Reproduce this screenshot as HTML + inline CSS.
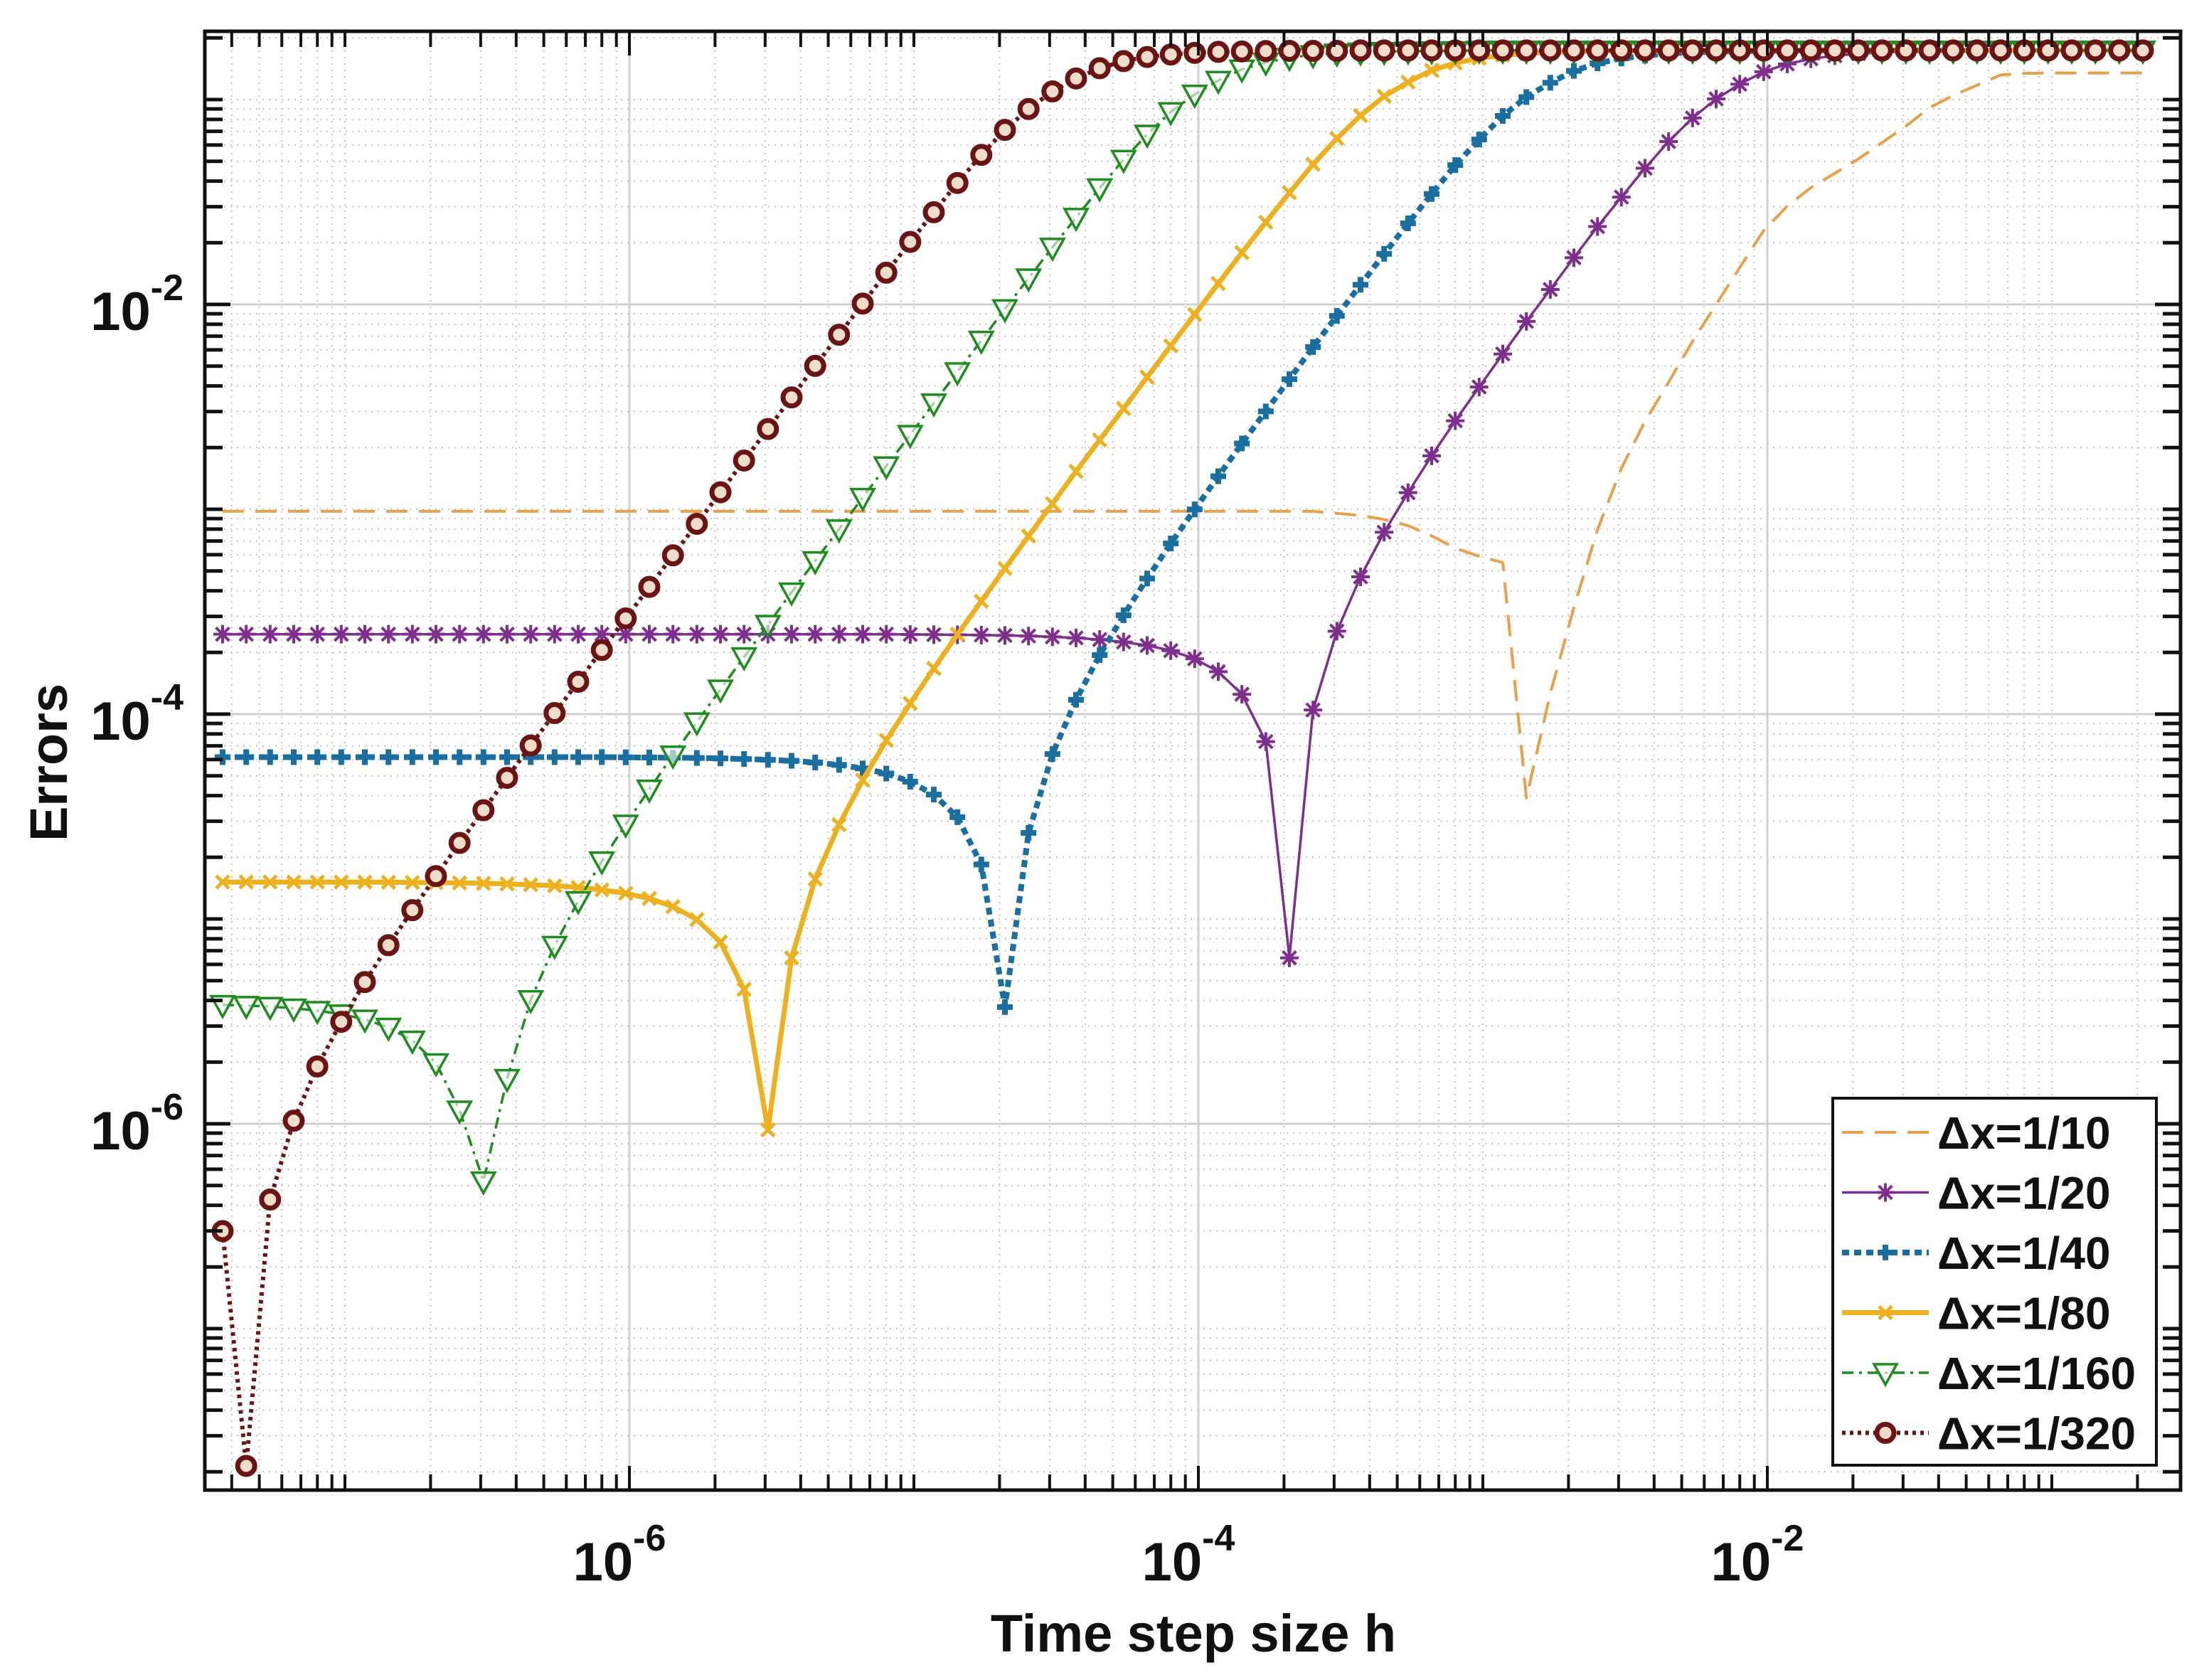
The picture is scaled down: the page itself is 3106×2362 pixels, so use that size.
<!DOCTYPE html>
<html><head><meta charset="utf-8"><style>
html,body{margin:0;padding:0;background:#fff;}
svg{display:block;font-family:"Liberation Sans",Arial,sans-serif;}
</style></head><body>
<svg id="chart" width="3106" height="2362" viewBox="0 0 3106 2362" xmlns="http://www.w3.org/2000/svg">
<defs><clipPath id="plotclip"><rect x="288" y="44" width="2778" height="2051"/></clipPath></defs>
<rect width="3106" height="2362" fill="#fff"/>
<g id="grid"></g>
<g id="series" clip-path="url(#plotclip)"></g>
<g id="axes"></g>
<g id="legend"></g>
<text x="1678" y="2322" font-size="74" font-weight="bold" text-anchor="middle" fill="#111">Time step size h</text>
<text x="0" y="0" transform="translate(94,1072) rotate(-90)" font-size="74" font-weight="bold" text-anchor="middle" fill="#111">Errors</text>
</svg>
<script>
// log10 of time step h (categories)
const hExp=[-7.430,-7.347,-7.263,-7.180,-7.097,-7.013,-6.930,-6.847,-6.763,-6.680,-6.597,-6.513,
-6.430,-6.347,-6.263,-6.180,-6.097,-6.013,-5.930,-5.847,-5.763,-5.680,-5.597,-5.513,
-5.430,-5.347,-5.263,-5.180,-5.097,-5.013,-4.930,-4.847,-4.763,-4.680,-4.597,-4.513,
-4.430,-4.347,-4.263,-4.180,-4.097,-4.013,-3.930,-3.847,-3.763,-3.680,-3.597,-3.513,
-3.430,-3.347,-3.263,-3.180,-3.097,-3.013,-2.930,-2.847,-2.763,-2.680,-2.597,-2.513,
-2.430,-2.347,-2.263,-2.180,-2.097,-2.013,-1.930,-1.847,-1.763,-1.680,-1.597,-1.513,
-1.430,-1.347,-1.263,-1.180,-1.097,-1.013,-0.930,-0.847,-0.763,-0.680];
// log10 of errors per series
const err10=[-3.01,-3.01,-3.01,-3.01,-3.01,-3.01,-3.01,-3.01,-3.01,-3.01,-3.01,-3.01,-3.01,-3.01,-3.01,-3.01,-3.01,-3.01,-3.01,-3.01,-3.01,-3.01,-3.01,-3.01,-3.01,-3.01,-3.01,-3.01,-3.01,-3.01,-3.01,-3.01,-3.01,-3.01,-3.01,-3.01,-3.01,-3.01,-3.01,-3.01,-3.01,-3.01,-3.01,-3.01,-3.01,-3.01,-3.01,
-3.02,-3.03,-3.05,-3.08,-3.13,-3.19,-3.23,-3.26,-4.41,-3.9,-3.48,-3.1,-2.8,-2.57,-2.38,-2.18,-2.0,-1.82,-1.64,-1.52,-1.43,-1.36,-1.29,-1.21,-1.13,-1.04,-0.98,-0.93,-0.88,-0.872,-0.87,-0.87,-0.87,-0.87,-0.87];
const err20=[-3.61,-3.61,-3.61,-3.61,-3.61,-3.61,-3.61,-3.61,-3.61,-3.61,-3.61,-3.61,-3.61,-3.61,-3.61,-3.61,-3.61,-3.61,-3.61,-3.61,-3.61,-3.61,-3.61,-3.61,-3.61,-3.61,-3.61,-3.61,-3.61,
-3.611,-3.612,-3.613,-3.614,-3.616,-3.619,-3.623,-3.628,-3.636,-3.648,-3.665,-3.69,-3.73,-3.793,-3.903,-4.134,-5.19,-3.98,-3.595,-3.33,-3.112,-2.919,-2.739,-2.568,-2.403,-2.242,-2.083,-1.927,-1.772,-1.62,-1.476,-1.335,-1.205,-1.09,-0.997,-0.925,-0.864,-0.826,-0.801,-0.786,-0.776,-0.77,-0.766,-0.764,-0.763,-0.762,-0.76,-0.76,-0.76,-0.76,-0.76,-0.76,-0.76];
const err40=[-4.21,-4.21,-4.21,-4.21,-4.21,-4.21,-4.21,-4.21,-4.21,-4.21,-4.21,-4.21,-4.21,-4.21,-4.21,-4.21,-4.21,
-4.211,-4.212,-4.213,-4.214,-4.216,-4.219,-4.223,-4.228,-4.236,-4.248,-4.265,-4.29,-4.33,-4.393,-4.503,-4.734,-5.43,-4.58,-4.195,-3.93,-3.712,-3.518,-3.338,-3.167,-3.001,-2.839,-2.679,-2.522,-2.365,-2.208,-2.056,-1.904,-1.753,-1.604,-1.461,-1.32,-1.195,-1.08,-0.988,-0.918,-0.86,-0.823,-0.799,-0.785,-0.775,-0.77,-0.766,-0.764,-0.763,-0.762,
-0.76,-0.76,-0.76,-0.76,-0.76,-0.76,-0.76,-0.76,-0.76,-0.76,-0.76,-0.76,-0.76,-0.76,-0.76];
const err80=[-4.82,-4.82,-4.82,-4.82,-4.82,-4.82,-4.82,-4.821,-4.822,-4.823,-4.824,-4.826,-4.829,-4.833,-4.838,-4.846,-4.858,-4.875,-4.90,-4.94,-5.003,-5.113,-5.344,-6.03,-5.19,-4.805,-4.54,-4.322,-4.128,-3.948,-3.777,-3.611,-3.449,-3.289,-3.131,-2.973,-2.815,-2.662,-2.508,-2.355,-2.202,-2.049,-1.898,-1.747,-1.599,-1.455,-1.316,-1.19,-1.078,-0.984,-0.915,-0.857,-0.822,-0.798,-0.784,-0.775,-0.77,-0.766,-0.764,-0.763,-0.762,
-0.76,-0.76,-0.76,-0.76,-0.76,-0.76,-0.76,-0.76,-0.76,-0.76,-0.76,-0.76,-0.76,-0.76,-0.76,-0.76,-0.76,-0.76,-0.76,-0.76,-0.76];
const err160=[-5.419,-5.423,-5.428,-5.436,-5.448,-5.465,-5.49,-5.53,-5.593,-5.703,-5.934,-6.28,-5.78,-5.395,-5.13,-4.912,-4.718,-4.538,-4.367,-4.201,-4.039,-3.879,-3.721,-3.563,-3.405,-3.252,-3.097,-2.943,-2.789,-2.636,-2.482,-2.33,-2.176,-2.022,-1.872,-1.722,-1.576,-1.432,-1.293,-1.17,-1.06,-0.975,-0.907,-0.852,-0.818,-0.795,-0.782,-0.774,-0.769,-0.766,-0.764,-0.763,-0.762,
-0.76,-0.76,-0.76,-0.76,-0.76,-0.76,-0.76,-0.76,-0.76,-0.76,-0.76,-0.76,-0.76,-0.76,-0.76,-0.76,-0.76,-0.76,-0.76,-0.76,-0.76,-0.76,-0.76,-0.76,-0.76,-0.76,-0.76,-0.76,-0.76];
const err320=[-6.524,-7.67,-6.37,-5.985,-5.72,-5.502,-5.308,-5.128,-4.957,-4.791,-4.629,-4.469,-4.311,-4.153,-3.995,-3.842,-3.687,-3.533,-3.379,-3.225,-3.071,-2.917,-2.762,-2.608,-2.454,-2.30,-2.148,-1.996,-1.845,-1.695,-1.55,-1.407,-1.27,-1.148,-1.046,-0.96,-0.897,-0.847,-0.812,-0.792,-0.78,-0.772,-0.767,-0.765,-0.763,-0.762,-0.762,-0.762,
-0.76,-0.76,-0.76,-0.76,-0.76,-0.76,-0.76,-0.76,-0.76,-0.76,-0.76,-0.76,-0.76,-0.76,-0.76,-0.76,-0.76,-0.76,-0.76,-0.76,-0.76,-0.76,-0.76,-0.76,-0.76,-0.76,-0.76,-0.76,-0.76,-0.76,-0.76,-0.76,-0.76,-0.76];
const seriesLabels=["\u0394x=1/10","\u0394x=1/20","\u0394x=1/40","\u0394x=1/80","\u0394x=1/160","\u0394x=1/320"];
const xTickExps=[-6,-4,-2];
const yTickExps=[-2,-4,-6];

const NS="http://www.w3.org/2000/svg";
const L=288,T=44,R=3066,B=2095;
function X(l){return 885+(l+6)*400;}
function Y(l){return 428+(-2-l)*288;}
function mk(tag,attrs,parent){const e=document.createElementNS(NS,tag);for(const k in attrs)e.setAttribute(k,attrs[k]);parent.appendChild(e);return e;}

const grid=document.getElementById('grid');
const axes=document.getElementById('axes');
for(let d=-8;d<=0;d++){for(let k=1;k<=9;k++){
  const lx=d+Math.log10(k);const px=X(lx);
  if(px>L+2&&px<R-2){
    const major=(k===1&&xTickExps.includes(d));
    const g=mk('line',{x1:px,y1:T,x2:px,y2:B,stroke:major?'#d0d0d0':'#c4c4c4','stroke-width':major?3:2,'stroke-dasharray':major?'none':'2 7'},grid);
    
    
    const len=major?34:22;
    const t1=mk('line',{x1:px,y1:B,x2:px,y2:B-len,stroke:'#111','stroke-width':4},axes);
    
    
    const t2=mk('line',{x1:px,y1:T,x2:px,y2:T+len,stroke:'#111','stroke-width':4},axes);
    
    
  }
  const py=Y(lx);
  if(py>T+2&&py<B-2){
    const major=(k===1&&yTickExps.includes(d));
    const g=mk('line',{x1:L,y1:py,x2:R,y2:py,stroke:major?'#d0d0d0':'#c4c4c4','stroke-width':major?3:2,'stroke-dasharray':major?'none':'2 7'},grid);
    
    
    const len=major?36:25;
    const t1=mk('line',{x1:L,y1:py,x2:L+len,y2:py,stroke:'#111','stroke-width':5},axes);
    
    
    const t2=mk('line',{x1:R,y1:py,x2:R-len,y2:py,stroke:'#111','stroke-width':5},axes);
    
    
  }
}}
const box=mk('rect',{x:L,y:T,width:R-L,height:B-T,fill:'none',stroke:'#111','stroke-width':5},axes);


xTickExps.forEach(e=>{
  const t=mk('text',{x:X(e)-14,y:2222,'font-size':76,'font-weight':'bold','text-anchor':'middle',fill:'#111'},axes);
  
  
  t.textContent='10';
  const s=mk('tspan',{dy:-42,'font-size':52},t);s.textContent=String(e);
});
yTickExps.forEach(e=>{
  const t=mk('text',{x:258,y:Y(e)+36,'font-size':76,'font-weight':'bold','text-anchor':'end',fill:'#111'},axes);
  
  
  t.textContent='10';
  const s=mk('tspan',{dy:-42,'font-size':52},t);s.textContent=String(e);
});

const styles=[
 {data:err10,color:'#E8A04A',w:4,dash:'30 16',marker:'none'},
 {data:err20,color:'#7E2F8E',w:3.5,dash:'none',marker:'star'},
 {data:err40,color:'#1B6FA0',w:8,dash:'10 7',marker:'plus'},
 {data:err80,color:'#EDB120',w:7,dash:'none',marker:'x'},
 {data:err160,color:'#1E8C1E',w:3.5,dash:'16 8 4 8',marker:'tri'},
 {data:err320,color:'#6B1414',w:6,dash:'5 6',marker:'circle'}
];
function drawMarker(type,x,y,color,parent){
  let g;
  if(type==='star'){const s=13;
    g=mk('path',{d:`M${x-s},${y}H${x+s}M${x},${y-s}V${y+s}M${x-s*0.72},${y-s*0.72}L${x+s*0.72},${y+s*0.72}M${x-s*0.72},${y+s*0.72}L${x+s*0.72},${y-s*0.72}`,stroke:color,'stroke-width':4,fill:'none'},parent);}
  else if(type==='plus'){const s=11;
    g=mk('path',{d:`M${x-s},${y}H${x+s}M${x},${y-s}V${y+s}`,stroke:color,'stroke-width':8,fill:'none'},parent);}
  else if(type==='x'){const s=9;
    g=mk('path',{d:`M${x-s},${y-s}L${x+s},${y+s}M${x-s},${y+s}L${x+s},${y-s}`,stroke:color,'stroke-width':5,fill:'none'},parent);}
  else if(type==='tri'){const s=16;
    g=mk('path',{d:`M${x-s},${y-s*0.75}L${x+s},${y-s*0.75}L${x},${y+s*1.05}Z`,stroke:color,'stroke-width':3.5,fill:'#fff','fill-opacity':0.6},parent);}
  else if(type==='circle'){
    g=mk('circle',{cx:x,cy:y,r:12,stroke:color,'stroke-width':7,fill:'#f0dccb'},parent);}
  return g;
}
const ser=document.getElementById('series');
styles.forEach((st,si)=>{
  const grp=mk('g',{},ser);
  
  
  const pts=st.data.map((v,i)=>X(hExp[i]).toFixed(1)+','+Y(v).toFixed(1)).join(' ');
  const pl=mk('polyline',{points:pts,fill:'none',stroke:st.color,'stroke-width':st.w,'stroke-dasharray':st.dash,'stroke-linejoin':'round'},grp);
  
  
  if(st.marker!=='none'){st.data.forEach((v,i)=>{
    const m=drawMarker(st.marker,X(hExp[i]),Y(v),st.color,grp);
    
    
  });}
});

const leg=document.getElementById('legend');
const lb=mk('rect',{x:2577,y:1544,width:455,height:516,fill:'#fff',stroke:'#111','stroke-width':4},leg);


styles.forEach((st,si)=>{
  const cy=1592+si*84.5;
  const e=mk('g',{},leg);
  
  
  const ln=mk('line',{x1:2590,y1:cy,x2:2712,y2:cy,stroke:st.color,'stroke-width':st.w,'stroke-dasharray':st.dash},e);
  
  
  if(st.marker!=='none'){const m=drawMarker(st.marker,2651,cy,st.color,e);
    
    }
  const t=mk('text',{x:2724,y:cy+23,'font-size':64,'font-weight':'bold',fill:'#111'},e);
  
  
  t.textContent=seriesLabels[si];
});
</script>
</body></html>
